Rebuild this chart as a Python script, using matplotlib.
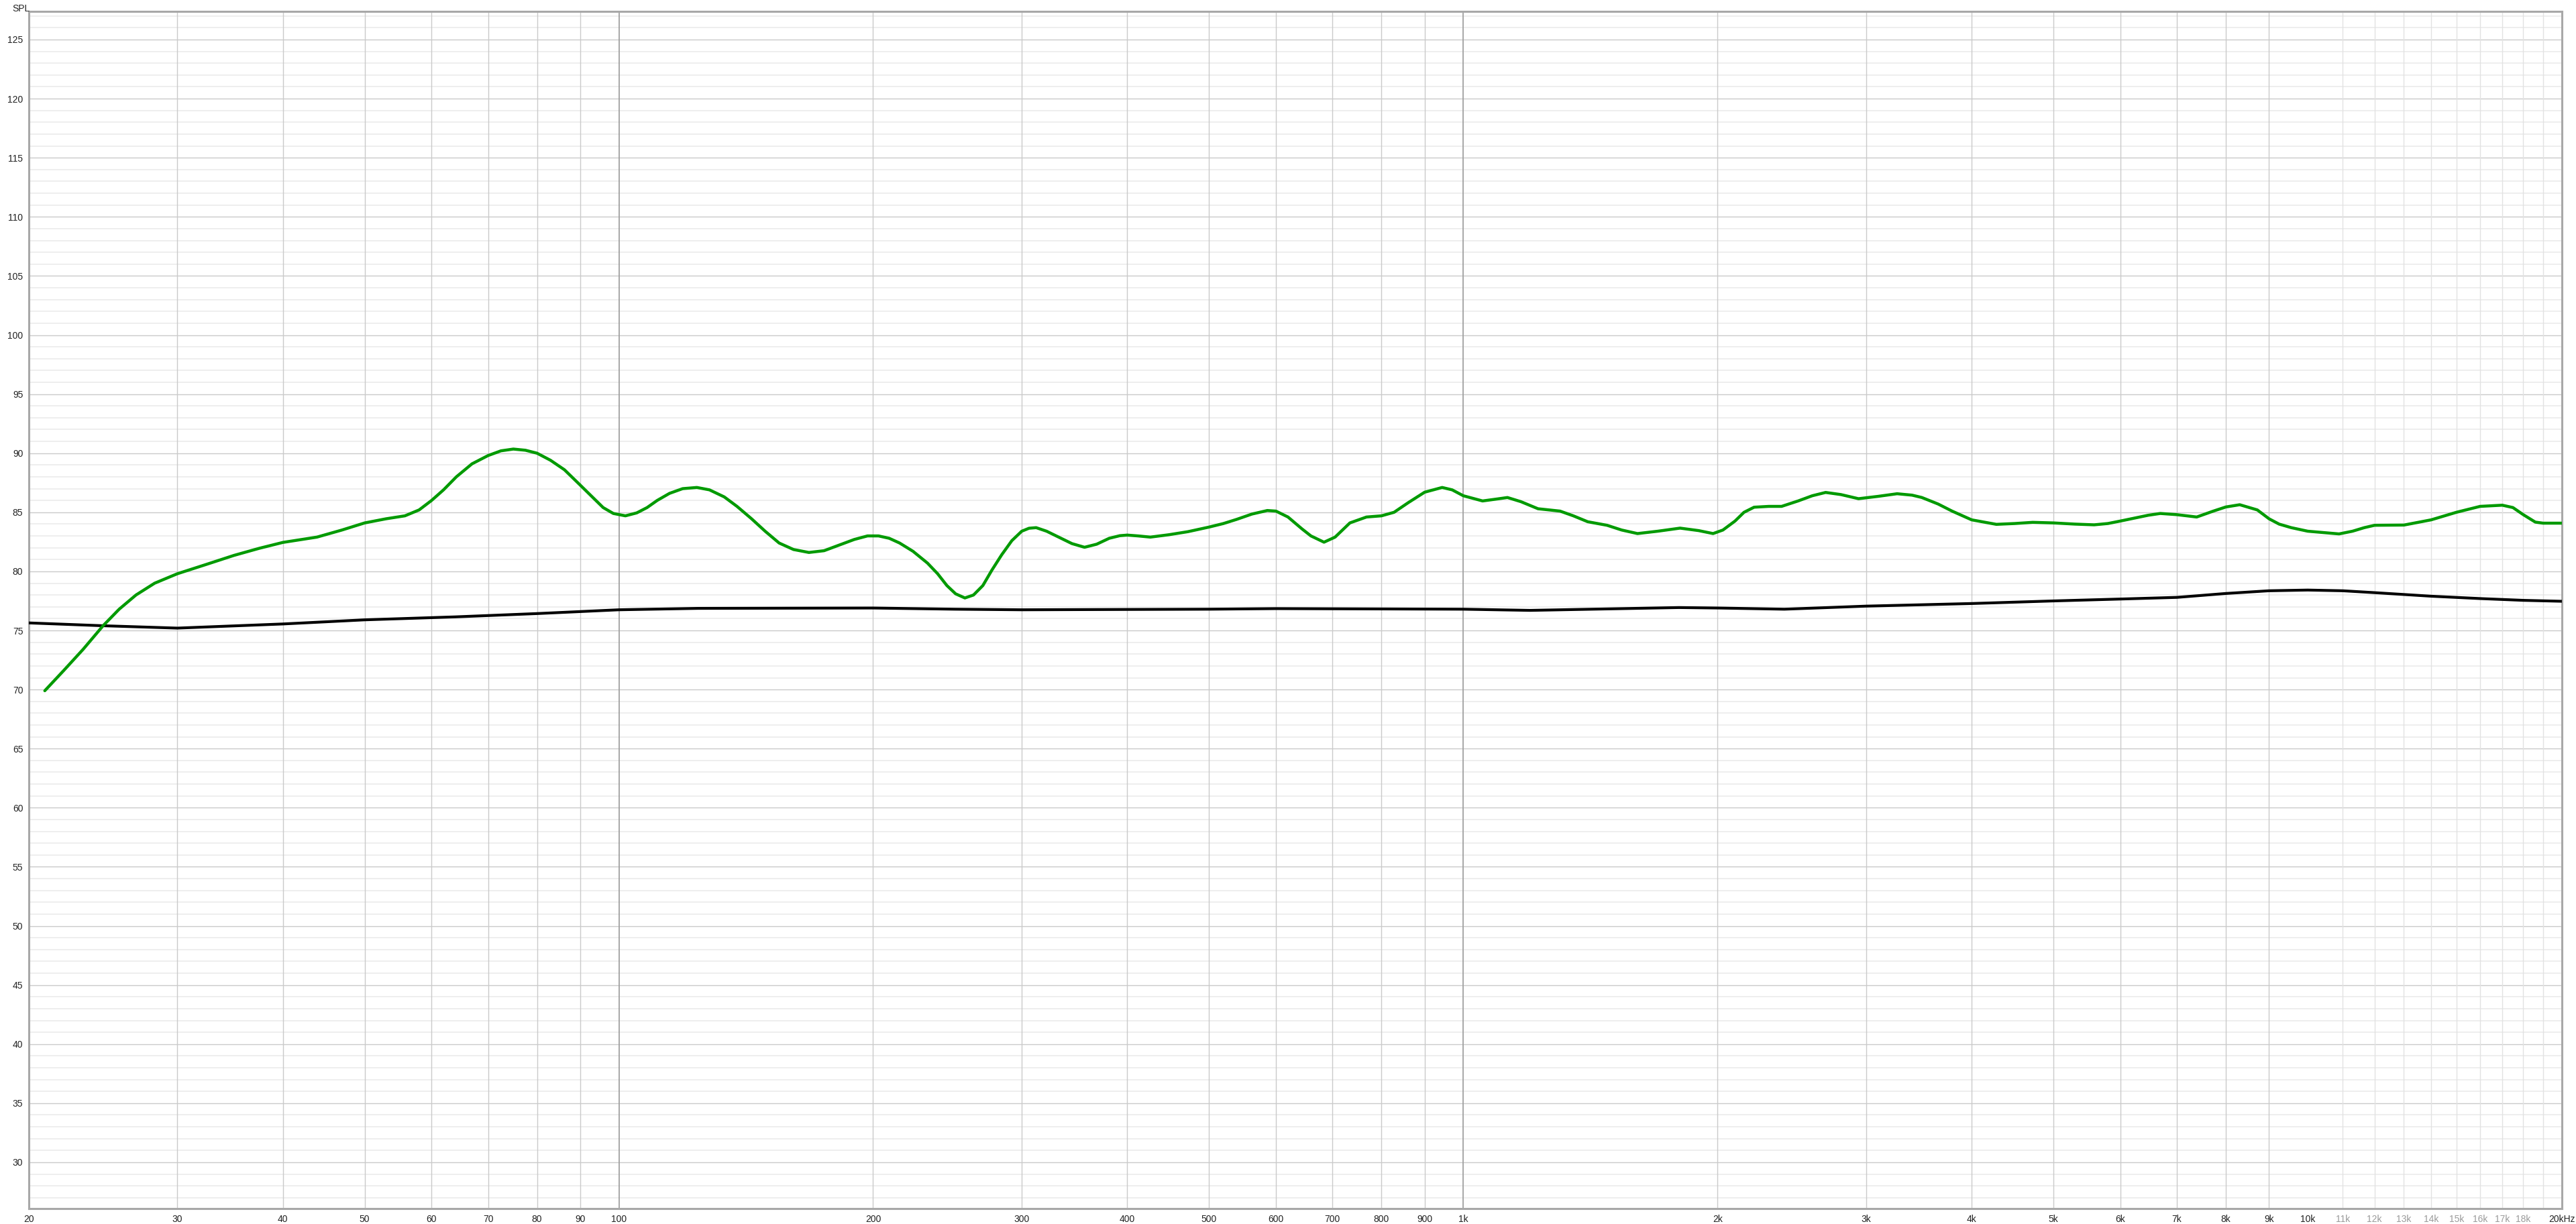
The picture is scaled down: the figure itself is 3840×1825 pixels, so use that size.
import numpy as np
import matplotlib.pyplot as plt
from matplotlib.ticker import NullFormatter, NullLocator

plt.rcParams['font.family'] = ['Liberation Sans', 'DejaVu Sans']

green_freq = [20.9, 22.0, 23.2, 24.5, 25.6, 26.8, 28.2, 30, 32.5, 35, 37.5,
              40, 43.9, 47, 50, 53, 55.8, 58, 60, 62, 64.2, 67, 70, 72.5, 75,
              77.5, 80, 83, 86.2, 90, 93, 95.8, 98.5, 101.8, 105, 108, 111,
              114.8, 119, 123.7, 128, 133.3, 138, 143.6, 149, 154.8, 161,
              167.9, 175, 182, 190, 197, 203, 209, 215, 223, 232, 238.5,
              244.6, 250.5, 256.9, 263, 269.8, 276.5, 284, 292, 300, 306, 312,
              321, 332.8, 344, 356, 368, 380.8, 392, 400, 412, 426, 448, 472,
              500, 520, 539, 562, 586, 600, 620, 644, 660, 684, 705, 734, 768,
              800, 828, 860, 900, 944, 970, 1000, 1054, 1090, 1128, 1170,
              1226, 1302, 1350, 1404, 1480, 1540, 1608, 1700, 1806, 1900,
              1976, 2030, 2098, 2150, 2210, 2300, 2382, 2492, 2590, 2686,
              2800, 2938, 3100, 3264, 3400, 3492, 3650, 3792, 4000, 4278,
              4500, 4724, 5000, 5300, 5586, 5800, 6000, 6474, 6690, 7000,
              7388, 7730, 8000, 8308, 8716, 9000, 9250, 9561, 10000, 10892,
              11300, 11668, 12000, 13000, 14000, 15000, 16000, 17000, 17500,
              18000, 18600, 19000, 20000]
green_spl = [69.9, 71.6, 73.4, 75.4, 76.8, 78.0, 79.0, 79.8, 80.6, 81.35,
             81.95, 82.45, 82.9, 83.5, 84.1, 84.45, 84.7, 85.2, 86.0, 86.9,
             88.0, 89.1, 89.8, 90.2, 90.35, 90.25, 90.0, 89.4, 88.6, 87.3,
             86.3, 85.4, 84.9, 84.7, 84.95, 85.4, 86.0, 86.6, 87.0, 87.1,
             86.9, 86.3, 85.5, 84.45, 83.4, 82.4, 81.85, 81.6, 81.75, 82.2,
             82.7, 83.0, 83.0, 82.8, 82.4, 81.7, 80.7, 79.8, 78.8, 78.1,
             77.75, 78.0, 78.8, 80.1, 81.4, 82.6, 83.4, 83.65, 83.7, 83.4,
             82.85, 82.35, 82.04, 82.3, 82.8, 83.02, 83.07, 83.0, 82.9,
             83.1, 83.36, 83.75, 84.05, 84.4, 84.85, 85.15, 85.1, 84.6, 83.6,
             83.0, 82.47, 82.9, 84.1, 84.6, 84.7, 85.0, 85.8, 86.7, 87.1,
             86.9, 86.4, 85.96, 86.1, 86.25, 85.9, 85.3, 85.1, 84.7, 84.2,
             83.9, 83.5, 83.2, 83.4, 83.66, 83.45, 83.2, 83.5, 84.26, 85.0,
             85.43, 85.5, 85.5, 85.96, 86.4, 86.68, 86.5, 86.15, 86.35,
             86.57, 86.45, 86.25, 85.7, 85.1, 84.36, 83.98, 84.05, 84.15,
             84.1, 84.0, 83.94, 84.05, 84.26, 84.75, 84.9, 84.8, 84.6, 85.1,
             85.45, 85.64, 85.2, 84.45, 84.0, 83.7, 83.4, 83.17, 83.4, 83.7,
             83.9, 83.92, 84.36, 85.0, 85.5, 85.6, 85.4, 84.8, 84.17, 84.08,
             84.08]

# Black trace (target / reference curve)
black_freq = [20, 24.5, 30, 40, 50, 64, 80, 100, 124, 200, 250, 300, 500,
              600, 1000, 1200, 1800, 2006, 2400, 3000, 4000, 5000, 6000,
              7000, 8000, 9000, 10000, 11000, 12000, 14000, 16000, 18000,
              20000]
black_spl = [75.64, 75.4, 75.2, 75.55, 75.9, 76.15, 76.43, 76.75, 76.87,
             76.9, 76.8, 76.75, 76.8, 76.85, 76.8, 76.7, 76.94, 76.9, 76.8,
             77.06, 77.28, 77.5, 77.66, 77.8, 78.13, 78.36, 78.42, 78.36,
             78.2, 77.9, 77.7, 77.55, 77.47]

# x axis labels
xtick_freq = [20, 30, 40, 50, 60, 70, 80, 90, 100, 200, 300, 400, 500, 600,
              700, 800, 900, 1000, 2000, 3000, 4000, 5000, 6000, 7000, 8000,
              9000, 10000, 11000, 12000, 13000, 14000, 15000, 16000, 17000,
              18000, 20000]
xtick_text = ['20', '30', '40', '50', '60', '70', '80', '90', '100', '200',
              '300', '400', '500', '600', '700', '800', '900', '1k', '2k',
              '3k', '4k', '5k', '6k', '7k', '8k', '9k', '10k', '11k', '12k',
              '13k', '14k', '15k', '16k', '17k', '18k', '20kHz']
faint_freq = [11000, 12000, 13000, 14000, 15000, 16000, 17000, 18000, 19000]
yticks = list(range(30, 130, 5))

fig = plt.figure(figsize=(38.4, 18.25), dpi=100)
ax = fig.add_axes([0.01112, 0.01277, 0.98341, 0.97808])
ax.set_xscale('log')
ax.set_xlim(20, 20000)
ax.set_ylim(26.1, 127.4)

# grid
for db in range(27, 128):
    if db % 5 == 0:
        ax.axhline(db, color='#cacaca', lw=1.0, zorder=1)
    else:
        ax.axhline(db, color='#ebebeb', lw=1.2, zorder=1)

for dec in [10, 100, 1000]:
    for m in range(1, 10):
        f = dec * m
        if f < 20 or f > 10000:
            continue
        if m == 1:
            ax.axvline(f, color='#a0a0a0', lw=1.3, zorder=1)
        else:
            ax.axvline(f, color='#cacaca', lw=1.0, zorder=1)
for f in faint_freq:
    ax.axvline(f, color='#e2e2e2', lw=1.0, zorder=1)

ax.plot(black_freq, black_spl, color='black', lw=3.0, zorder=3,
        solid_capstyle='round', solid_joinstyle='round')
ax.plot(green_freq, green_spl, color='#009a00', lw=3.2, zorder=4,
        solid_capstyle='round', solid_joinstyle='round')

ax.xaxis.set_minor_locator(NullLocator())
ax.xaxis.set_minor_formatter(NullFormatter())
ax.set_xticks(xtick_freq)
ax.set_xticklabels(xtick_text)
for lab, f in zip(ax.get_xticklabels(), xtick_freq):
    lab.set_color('#9a9a9a' if f in faint_freq else '#222222')
ax.set_yticks(yticks)
ax.set_yticklabels([str(v) for v in yticks], color='#222222')
ax.tick_params(axis='both', length=0, labelsize=10)
ax.tick_params(axis='x', pad=7)
ax.tick_params(axis='y', pad=6)

for s in ax.spines.values():
    s.set_color('#a8a8a8')
    s.set_linewidth(2.2)

fig.text(0.0047, 0.9965, 'SPL', fontsize=10, color='#222222',
         ha='left', va='top')

fig.savefig('out.png', dpi=100, facecolor='white')
